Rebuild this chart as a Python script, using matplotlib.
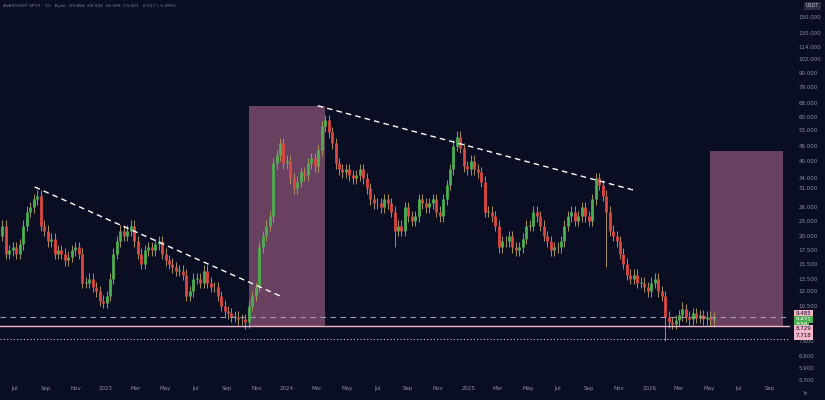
import matplotlib
matplotlib.use("Agg")
import matplotlib.pyplot as plt
import matplotlib.dates as mdates
import numpy as np
import datetime as dt

start = dt.date(2022, 6, 6)
closes = [
 # 2022 Jun-Dec
 22, 17, 17.5, 18, 17, 18.5, 22, 25, 26, 28, 29, 22, 21, 19, 19.5, 17, 17.5,
 17, 16, 16.5, 17.5, 18, 17, 13, 13, 13.5, 12.5, 12, 11, 10.8,
 # 2023
 11.5, 13.5, 17, 19, 21, 20, 21, 22, 19, 17, 15.5, 17.5, 18, 17.5, 18.5, 19, 17,
 16, 15.5, 15, 14.5, 14.5, 14, 11.5, 12, 13.5, 13.5, 13, 14.5, 13, 12.5,
 12.5, 11.5, 10.5, 10, 9.8, 9.5, 9.5, 9.3, 9.3, 9.0, 10.5, 11.5,
 12.5, 18, 20, 22, 24, 39, 42, 47, 39,
 # 2024
 40, 34, 31, 33, 36, 35, 39, 41, 38, 44, 55, 58, 52, 47, 39, 37, 36, 37,
 35, 34, 35, 37, 34, 31, 28, 27, 27, 26, 28, 27, 25, 21, 22, 21, 26,
 24, 23, 24, 28, 27, 26, 27, 28, 25, 24, 28, 32, 37, 46, 50, 45, 38, 37,
 # 2025
 40, 37, 36, 33, 25, 25, 24, 22, 18, 19, 19, 20, 18, 17.5, 18, 19.5, 22,
 22, 25, 24, 22, 20, 19, 17.5, 18, 18, 19, 22, 24, 25, 23, 24, 26, 24,
 23, 28, 34, 32, 29, 25, 21, 20, 19, 17, 15.5, 14, 13.5, 14, 13, 13, 12.5, 12,
 # 2026
 13, 13.5, 12, 11.5, 9.5, 9, 8.9, 9.2, 9.6, 10.2, 9.5, 9.3, 9.8, 9.4, 9.6, 9.3, 9.5, 9.2, 9.42,
]
first_open = 20
special_wicks = {  # week index: (high, low)
    10: (30.5, None), 70: (None, 8.5), 113: (None, 18), 174: (None, 15),
    191: (None, 7.6), 196: (10.9, None),
}

yticks = [5.3, 5.9, 6.6, 7.6, 10.5, 12.0, 13.5, 15.5, 17.5, 20, 23, 26, 31, 34,
          40, 46, 53, 60, 68, 79, 90, 102, 114, 130, 150]
month_labels = [("Jul", "2022-07-01"), ("Sep", "2022-09-01"), ("Nov", "2022-11-01"),
                ("2023", "2023-01-01"), ("Mar", "2023-03-01"), ("May", "2023-05-01"),
                ("Jul", "2023-07-01"), ("Sep", "2023-09-01"), ("Nov", "2023-11-01"),
                ("2024", "2024-01-01"), ("Mar", "2024-03-01"), ("May", "2024-05-01"),
                ("Jul", "2024-07-01"), ("Sep", "2024-09-01"), ("Nov", "2024-11-01"),
                ("2025", "2025-01-01"), ("Mar", "2025-03-01"), ("May", "2025-05-01"),
                ("Jul", "2025-07-01"), ("Sep", "2025-09-01"), ("Nov", "2025-11-01"),
                ("2026", "2026-01-01"), ("Mar", "2026-03-01"), ("May", "2026-05-01"),
                ("Jul", "2026-07-01"), ("Sep", "2026-09-01")]
lines_levels = {"dashed": 9.485, "solid": 8.729, "dotted": 7.718}
boxes = [("2023-10-17", "2024-03-17", 8.729, 66), ("2026-05-04", "2026-09-28", 8.729, 43.8)]
trend = [(("2022-08-10", 31.4), ("2023-12-18", 11.5)), (("2024-03-03", 66.4), ("2025-12-06", 30.3))]

BG = "#0a0e23"
fig = plt.figure(figsize=(8.25, 4), dpi=100, facecolor=BG)
ax = fig.add_axes([0, 0.045, 790/825, 0.955])
ax.set_facecolor(BG)
ax.set_yscale("log")
d = lambda s: mdates.date2num(dt.date.fromisoformat(s))

dates = [mdates.date2num(start + dt.timedelta(weeks=i)) for i in range(len(closes))]
opens = [first_open] + closes[:-1]
for i, (x, o, c) in enumerate(zip(dates, opens, closes)):
    hi = max(o, c) * 1.05
    lo = min(o, c) * 0.95
    if i in special_wicks:
        h2, l2 = special_wicks[i]
        hi = h2 or hi
        lo = l2 or lo
    col = "#4caf50" if c >= o else "#e0463f"
    ax.vlines(x, lo, hi, color="#a8905a", lw=0.7, zorder=3)
    ax.vlines(x, min(o, c), max(o, c) if abs(c - o) > 0.01 else c * 1.003,
              color=col, lw=2.0, zorder=4)

for a, b, lo, hi in boxes:
    ax.fill_between([d(a), d(b)], lo, hi, color="#7a4a6c", alpha=0.85, zorder=2, lw=0)
for (a, pa), (b, pb) in trend:
    ax.plot([d(a), d(b)], [pa, pb], color="white", lw=1, ls=(0, (4, 3)), zorder=5)

ax.axhline(lines_levels["dashed"], color="#9aa0b0", lw=0.8, ls=(0, (5, 4)), zorder=5)
ax.axhline(lines_levels["solid"], color="#f4b6c8", lw=1.0, zorder=5)
ax.axhline(lines_levels["dotted"], color="#c0c4d0", lw=0.8, ls=(0, (1, 2)), zorder=5)

ax.set_xlim(d("2022-06-01"), d("2026-10-12"))
ax.set_ylim(5.2, 176)
ax.yaxis.tick_right()
ax.set_yticks(yticks)
ax.set_yticklabels([f"{v:.3f}" for v in yticks])
ax.yaxis.set_minor_locator(matplotlib.ticker.NullLocator())
ax.tick_params(axis="y", colors="#8a8fa0", labelsize=4, length=0, pad=6)
ax.set_xticks([d(s) for _, s in month_labels])
ax.set_xticklabels([l for l, _ in month_labels])
ax.tick_params(axis="x", colors="#8a8fa0", labelsize=4, length=0, pad=3)
for s in ax.spines.values():
    s.set_visible(False)

tr = ax.get_yaxis_transform()
for v, txt, fc in [(9.75, "9.485", "#f4b6c8"), (9.25, "9.421", "#4caf50"), (8.85, "3:56", "#4caf50"),
                   (8.5, "8.729", "#f4b6c8"), (7.95, "7.718", "#f4b6c8")]:
    ax.text(1.007, v, txt, transform=tr, fontsize=4, color="#0a0e23" if fc != "#4caf50" else "white",
            va="center", ha="left", bbox=dict(boxstyle="square,pad=0.25", fc=fc, ec="none"), clip_on=False)
ax.text(1.02, 0.985, "USDT", transform=ax.transAxes, fontsize=3.5, color="#c0c4d0", va="center",
        bbox=dict(boxstyle="square,pad=0.3", fc="#2a2e3e", ec="none"))
fig.text(0.004, 0.99, "AVAX/USDT SPOT · 1D · Bybit  O9.884  H9.926  L8.999  C9.421  -0.517 (-5.49%)",
         fontsize=3.2, color="#7a8090", va="top", ha="left")
fig.text(0.975, 0.012, "Yo", fontsize=3.5, color="#7a8090", ha="center")
fig.savefig("out.png", dpi=100, facecolor=BG)
